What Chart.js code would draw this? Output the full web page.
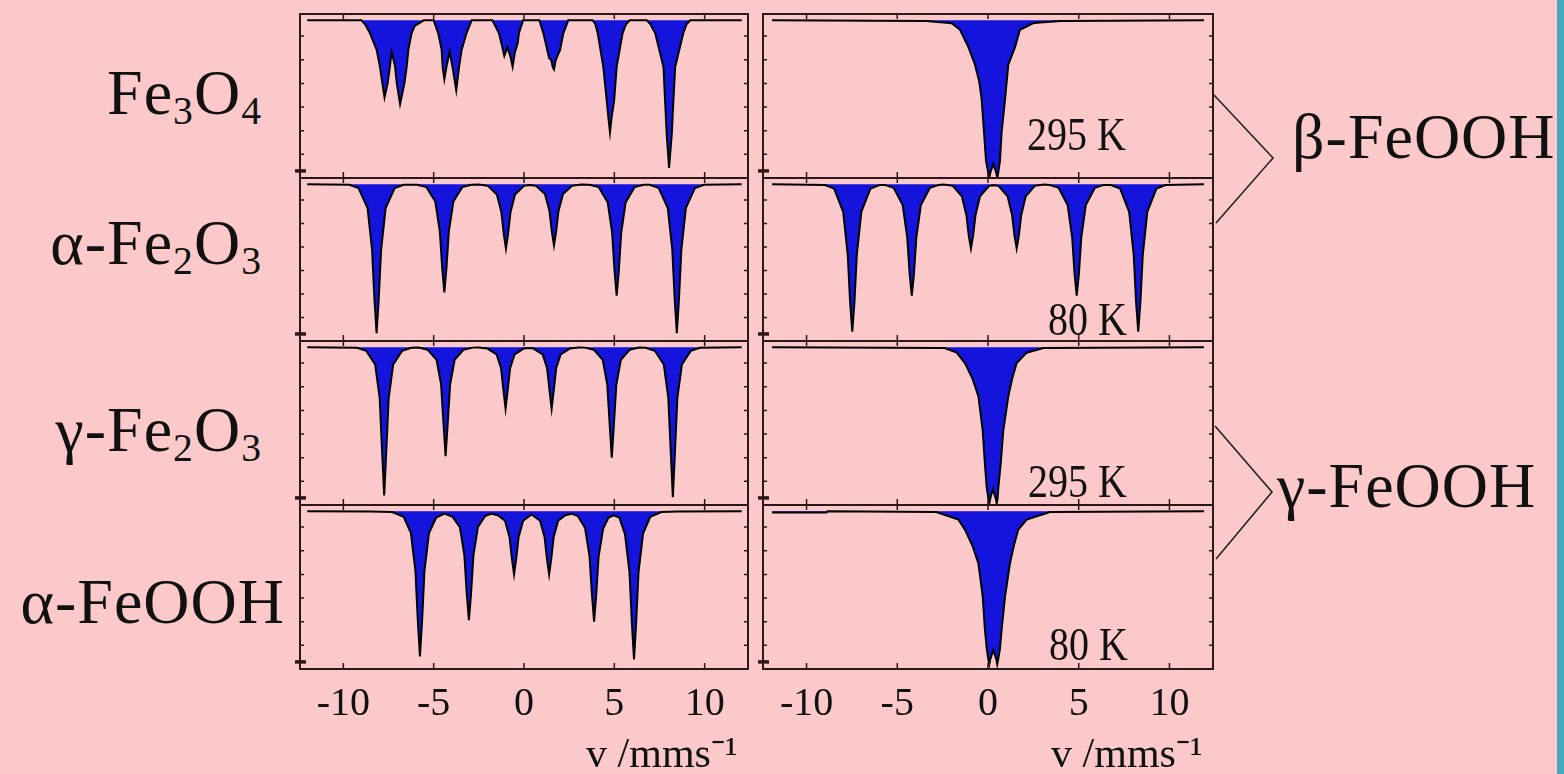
<!DOCTYPE html>
<html>
<head>
<meta charset="utf-8">
<script src="https://cdn.jsdelivr.net/npm/chart.js@4.4.0/dist/chart.umd.min.js"></script>
<style>
  html, body { margin: 0; padding: 0; overflow: hidden; }
  #wrap { position: relative; width: 1564px; height: 774px; background: #fbc9c9; overflow: hidden; font-family: 'Liberation Serif', serif; color: #111; }
  #wrap canvas { position: absolute; }
  .lbl { position: absolute; font-size: 64px; line-height: 1; white-space: nowrap; letter-spacing: 1px; }
  .lbl sub { font-size: 0.62em; vertical-align: -0.24em; line-height: 0; }
  .temp { position: absolute; font-size: 40px; line-height: 1; white-space: nowrap; transform: scaleY(1.15); transform-origin: 0 33.5px; }
  #edge { position: absolute; left: 1557px; top: 0; width: 7px; height: 774px; background: #4aa6bf; }
  svg { position: absolute; left: 0; top: 0; }
</style>
</head>
<body>
<div id="wrap">
  <div class="lbl" style="right:1302px; top:61px">Fe<sub>3</sub>O<sub>4</sub></div>
  <div class="lbl" style="right:1302px; top:211px">&alpha;-Fe<sub>2</sub>O<sub>3</sub></div>
  <div class="lbl" style="right:1302px; top:398px">&gamma;-Fe<sub>2</sub>O<sub>3</sub></div>
  <div class="lbl" style="right:1279px; top:570px">&alpha;-FeOOH</div>
  <div class="lbl" style="left:1292px; top:105px">&beta;-FeOOH</div>
  <div class="lbl" style="left:1277px; top:454px">&gamma;-FeOOH</div>
  <div class="temp" style="left:1027px; top:117px">295 K</div>
  <div class="temp" style="left:1048px; top:302px">80 K</div>
  <div class="temp" style="left:1028px; top:464px">295 K</div>
  <div class="temp" style="left:1049px; top:627px">80 K</div>
  <svg width="1564" height="774">
    <polyline points="1214,95 1273,158 1216,223" fill="none" stroke="#222" stroke-width="1.6"/>
    <polyline points="1215,426 1272,492 1216,559" fill="none" stroke="#222" stroke-width="1.6"/>
  </svg>
  <div id="edge"></div>
</div>
<script>
// spectra: [velocity mm/s, relative transmission]
const fe3o4 = [
  [-12.0, 1], [-9.0, 1], [-8.8, 0.975], [-8.53, 0.919], [-8.16, 0.814], [-7.98, 0.71], [-7.84, 0.60], [-7.72, 0.51],
  [-7.55, 0.60], [-7.42, 0.71], [-7.33, 0.80], [-7.14, 0.71], [-7.04, 0.60], [-6.86, 0.47], [-6.62, 0.60],
  [-6.49, 0.71], [-6.40, 0.814], [-6.22, 0.919], [-6.05, 0.965], [-5.55, 1],
  [-5.00, 1], [-4.75, 0.919], [-4.56, 0.814], [-4.50, 0.70], [-4.41, 0.626], [-4.30, 0.70], [-4.12, 0.80],
  [-3.95, 0.70], [-3.75, 0.556], [-3.60, 0.70], [-3.45, 0.814], [-3.18, 0.919], [-2.90, 1],
  [-1.75, 1], [-1.39, 0.919], [-1.22, 0.84], [-1.09, 0.774], [-0.92, 0.83], [-0.75, 0.77], [-0.63, 0.705],
  [-0.50, 0.80], [-0.35, 0.855], [-0.28, 0.919], [-0.05, 1],
  [0.85, 1], [1.07, 0.919], [1.25, 0.83], [1.39, 0.76], [1.50, 0.75], [1.60, 0.70], [1.66, 0.688],
  [1.76, 0.75], [2.00, 0.814], [2.18, 0.919], [2.45, 1],
  [3.80, 1], [3.95, 0.975], [4.08, 0.919], [4.39, 0.705], [4.58, 0.49], [4.67, 0.385], [4.76, 0.29], [4.85, 0.385],
  [4.99, 0.49], [5.13, 0.705], [5.46, 0.919], [5.65, 0.975], [5.85, 1],
  [6.80, 1], [7.0, 0.975], [7.26, 0.919], [7.72, 0.705], [7.81, 0.49], [7.90, 0.278], [8.03, 0.064], [8.18, 0.278],
  [8.27, 0.49], [8.37, 0.705], [8.82, 0.919], [9.0, 0.975], [9.20, 1], [12.05, 1]
];
const alphaFe2o3 = [
  [-12.0, 1], [-9.66, 0.997], [-9.16, 0.975], [-8.66, 0.848], [-8.41, 0.582], [-8.28, 0.27],
  [-8.16, 0.05], [-8.04, 0.27], [-7.91, 0.582], [-7.66, 0.848], [-7.16, 0.975], [-6.66, 0.997],
  [-5.91, 0.997], [-5.41, 0.982], [-4.91, 0.89], [-4.66, 0.70], [-4.53, 0.47], [-4.41, 0.31], [-4.29, 0.47],
  [-4.16, 0.70], [-3.91, 0.89], [-3.41, 0.982], [-2.91, 0.997],
  [-2.5, 0.998], [-2.0, 0.99], [-1.5, 0.934], [-1.25, 0.82], [-1.12, 0.684], [-1.0, 0.59], [-0.88, 0.684],
  [-0.75, 0.82], [-0.5, 0.934], [0.0, 0.99], [0.33, 0.995],
  [0.66, 0.99], [1.16, 0.938], [1.41, 0.83], [1.54, 0.70], [1.66, 0.61], [1.78, 0.70], [1.91, 0.83],
  [2.16, 0.938], [2.66, 0.99], [3.16, 0.998],
  [3.63, 0.997], [4.13, 0.982], [4.63, 0.886], [4.88, 0.69], [5.01, 0.45], [5.13, 0.29], [5.25, 0.45],
  [5.38, 0.69], [5.63, 0.886], [6.13, 0.982], [6.63, 0.997],
  [6.96, 0.997], [7.46, 0.975], [7.96, 0.848], [8.21, 0.582], [8.34, 0.27], [8.46, 0.05], [8.58, 0.27],
  [8.71, 0.582], [8.96, 0.848], [9.46, 0.975], [9.96, 0.997], [12.05, 1]
];
const gammaFe2o3 = [
  [-12.0, 1], [-9.24, 0.997], [-8.74, 0.978], [-8.24, 0.892], [-7.99, 0.68], [-7.86, 0.35],
  [-7.74, 0.06], [-7.62, 0.35], [-7.49, 0.68], [-7.24, 0.892], [-6.74, 0.978], [-6.24, 0.997],
  [-5.84, 0.998], [-5.34, 0.985], [-4.84, 0.921], [-4.59, 0.765], [-4.46, 0.524], [-4.34, 0.31], [-4.22, 0.524],
  [-4.09, 0.765], [-3.84, 0.921], [-3.34, 0.985], [-2.84, 0.998],
  [-2.52, 0.999], [-2.02, 0.992], [-1.52, 0.955], [-1.27, 0.867], [-1.14, 0.73], [-1.02, 0.61], [-0.9, 0.73],
  [-0.77, 0.867], [-0.52, 0.955], [-0.02, 0.992], [0.26, 0.995],
  [0.53, 0.992], [1.03, 0.955], [1.28, 0.867], [1.41, 0.73], [1.53, 0.61], [1.65, 0.73], [1.78, 0.867],
  [2.03, 0.955], [2.53, 0.992], [3.03, 0.999],
  [3.36, 0.998], [3.86, 0.985], [4.36, 0.92], [4.61, 0.762], [4.74, 0.517], [4.86, 0.30], [4.98, 0.517],
  [5.11, 0.762], [5.36, 0.92], [5.86, 0.985], [6.36, 0.998],
  [6.74, 0.997], [7.24, 0.978], [7.74, 0.891], [7.99, 0.677], [8.12, 0.345], [8.24, 0.05], [8.36, 0.345],
  [8.49, 0.677], [8.74, 0.891], [9.24, 0.978], [9.74, 0.997], [12.05, 1]
];
const alphaFeooh = [
  [-12.0, 1], [-8.5, 0.999], [-7.3, 0.995], [-6.66, 0.965], [-6.26, 0.862], [-6.01, 0.623], [-5.88, 0.31],
  [-5.76, 0.08], [-5.64, 0.31], [-5.51, 0.623], [-5.26, 0.862], [-4.86, 0.96], [-4.40, 0.985],
  [-3.95, 0.965], [-3.55, 0.90], [-3.30, 0.72], [-3.17, 0.48], [-3.05, 0.31], [-2.93, 0.48], [-2.80, 0.72],
  [-2.55, 0.90], [-2.15, 0.97], [-1.80, 0.985],
  [-1.45, 0.975], [-1.05, 0.94], [-0.80, 0.836], [-0.67, 0.70], [-0.55, 0.60], [-0.43, 0.70], [-0.30, 0.836],
  [-0.05, 0.94], [0.42, 0.98],
  [0.89, 0.94], [1.14, 0.836], [1.27, 0.70], [1.39, 0.60], [1.51, 0.70], [1.64, 0.836], [1.89, 0.94],
  [2.29, 0.975], [2.63, 0.985],
  [2.98, 0.97], [3.38, 0.895], [3.63, 0.713], [3.76, 0.475], [3.88, 0.30], [4.00, 0.475], [4.13, 0.713],
  [4.38, 0.89], [4.68, 0.96], [4.98, 0.975],
  [5.28, 0.96], [5.59, 0.855], [5.84, 0.615], [5.97, 0.295], [6.09, 0.06], [6.21, 0.295], [6.34, 0.615],
  [6.59, 0.859], [6.99, 0.965], [7.6, 0.995], [8.5, 0.999], [12.05, 1]
];
const betaFeooh295 = [
  [-11.9, 1], [-3.4, 0.995], [-2.3, 0.985], [-2.0, 0.982], [-1.54, 0.94], [-1.08, 0.83], [-0.72, 0.72],
  [-0.48, 0.61], [-0.35, 0.50], [-0.22, 0.29], [-0.11, 0.11], [0.02, 0.03], [0.07, 0.0], [0.12, 0.03],
  [0.29, 0.09], [0.46, 0.03], [0.51, 0.0], [0.56, 0.03], [0.66, 0.11], [0.75, 0.29], [0.94, 0.50],
  [1.03, 0.61], [1.12, 0.72], [1.49, 0.83], [1.76, 0.94], [2.5, 0.982], [2.7, 0.985], [4.0, 0.995], [11.9, 1]
];
const betaFeooh80 = [
  [-11.9, 1], [-8.98, 0.995], [-8.48, 0.972], [-7.98, 0.824], [-7.73, 0.55], [-7.60, 0.25],
  [-7.48, 0.06], [-7.36, 0.25], [-7.23, 0.55], [-6.98, 0.824], [-6.48, 0.972], [-5.98, 0.995],
  [-5.70, 0.996], [-5.20, 0.978], [-4.70, 0.867], [-4.45, 0.66], [-4.32, 0.43], [-4.20, 0.29], [-4.08, 0.43],
  [-3.95, 0.66], [-3.70, 0.867], [-3.20, 0.978], [-2.70, 0.996],
  [-2.44, 0.998], [-1.94, 0.99], [-1.44, 0.923], [-1.19, 0.803], [-1.06, 0.672], [-0.94, 0.59], [-0.82, 0.672],
  [-0.69, 0.803], [-0.44, 0.923], [0.06, 0.99], [0.32, 0.993],
  [0.58, 0.99], [1.08, 0.923], [1.33, 0.803], [1.46, 0.672], [1.58, 0.59], [1.70, 0.672], [1.83, 0.803],
  [2.08, 0.923], [2.58, 0.99], [3.08, 0.998],
  [3.39, 0.996], [3.89, 0.978], [4.39, 0.867], [4.64, 0.66], [4.77, 0.43], [4.89, 0.29], [5.01, 0.43],
  [5.14, 0.66], [5.39, 0.867], [5.89, 0.978], [6.39, 0.996],
  [6.78, 0.995], [7.28, 0.972], [7.78, 0.824], [8.03, 0.55], [8.16, 0.25], [8.28, 0.06], [8.40, 0.25],
  [8.53, 0.55], [8.78, 0.824], [9.28, 0.972], [9.78, 0.995], [11.9, 1]
];
const gammaFeooh295 = [
  [-11.9, 1], [-2.4, 0.995], [-1.72, 0.966], [-1.27, 0.90], [-0.85, 0.80], [-0.53, 0.69], [-0.29, 0.47],
  [-0.17, 0.26], [-0.07, 0.11], [0.02, 0.04], [0.07, 0.01], [0.12, 0.04], [0.27, 0.10], [0.43, 0.04],
  [0.48, 0.01], [0.53, 0.04], [0.57, 0.11], [0.70, 0.26], [0.84, 0.47], [1.12, 0.69], [1.33, 0.80],
  [1.58, 0.90], [2.13, 0.966], [3.05, 0.995], [11.9, 1]
];
const gammaFeooh80 = [
  [-11.9, 0.993], [-8.9, 0.993], [-8.85, 1], [-2.85, 0.995], [-1.63, 0.947], [-1.27, 0.884], [-0.85, 0.78],
  [-0.53, 0.67], [-0.29, 0.46], [-0.17, 0.25], [-0.07, 0.13], [0.02, 0.06], [0.07, 0.03], [0.12, 0.06],
  [0.29, 0.12], [0.46, 0.06], [0.51, 0.03], [0.56, 0.06], [0.66, 0.13], [0.75, 0.25], [0.94, 0.46],
  [1.21, 0.67], [1.42, 0.78], [1.67, 0.884], [2.13, 0.947], [3.42, 0.995], [11.9, 1]
];

const velocityTicks = [-10, -5, 0, 5, 10];
const frameYTicks = [0.15, 0.3, 0.45, 0.6, 0.75, 0.9];
const axisTitle = 'v /mms\u207B\u00B9 ';

// panel geometry (chart area, px)
const colLeft = [300, 763];
const colWidth = [448, 450];
const rowTop = [14, 178, 341, 505];
const rowHeight = [164, 163, 164, 164];
const padL = 6, padR = 2, padT = 2, padB = 2;
const axisH = 112;

const frameColor = '#2a1818';
const fillColor = '#1414dc';

const panels = [
  {data: fe3o4, col: 0, row: 0},
  {data: alphaFe2o3, col: 0, row: 1},
  {data: gammaFe2o3, col: 0, row: 2},
  {data: alphaFeooh, col: 0, row: 3},
  {data: betaFeooh295, col: 1, row: 0},
  {data: betaFeooh80, col: 1, row: 1},
  {data: gammaFeooh295, col: 1, row: 2},
  {data: gammaFeooh80, col: 1, row: 3},
];

Chart.defaults.font.family = 'Liberation Serif';

const framePlugin = {
  id: 'frame',
  afterDraw(chart) {
    const {ctx, chartArea: a, scales: {x, y}} = chart;
    ctx.save();
    ctx.strokeStyle = frameColor;
    ctx.lineWidth = 2;
    ctx.strokeRect(a.left, a.top, a.right - a.left, a.bottom - a.top);
    ctx.lineWidth = 1.5;
    ctx.beginPath();
    velocityTicks.forEach(v => {
      const px = x.getPixelForValue(v);
      ctx.moveTo(px, a.bottom);
      ctx.lineTo(px, a.bottom - 6);
      ctx.moveTo(px, a.top);
      ctx.lineTo(px, a.top + 5);
    });
    frameYTicks.forEach(t => {
      const py = y.getPixelForValue(t);
      ctx.moveTo(a.left, py);
      ctx.lineTo(a.left + 4, py);
      ctx.moveTo(a.right, py);
      ctx.lineTo(a.right - 4, py);
    });
    ctx.stroke();
    // small zero marker at the left edge
    const pz = y.getPixelForValue(0.045);
    ctx.lineWidth = 3.5;
    ctx.beginPath();
    ctx.moveTo(a.left - 5, pz);
    ctx.lineTo(a.left + 6, pz);
    ctx.stroke();
    ctx.restore();
  }
};

const wrap = document.getElementById('wrap');

panels.forEach(p => {
  const showAxis = p.row === 3;
  const c = document.createElement('canvas');
  c.width = colWidth[p.col] + padL + padR;
  c.height = rowHeight[p.row] + padT + (showAxis ? axisH : padB);
  c.style.left = (colLeft[p.col] - padL) + 'px';
  c.style.top = (rowTop[p.row] - padT) + 'px';
  wrap.insertBefore(c, wrap.firstChild);

  let xScale = {
    type: 'linear',
    min: -12.4,
    max: 12.4,
    display: showAxis,
    afterBuildTicks: s => { s.ticks = velocityTicks.map(v => ({value: v})); },
    grid: {display: false, drawTicks: false},
    border: {display: false},
    ticks: {
      color: '#111',
      padding: 11,
      maxRotation: 0,
      autoSkip: false,
      font: {size: 40}
    },
    title: {
      display: true,
      text: axisTitle,
      align: 'end',
      color: '#111',
      padding: 0,
      font: {size: 42}
    }
  };
  if (showAxis) {
    xScale.afterFit = s => { s.height = axisH; };
  }

  new Chart(c, {
    type: 'line',
    data: {
      datasets: [{
        data: p.data.map(d => ({x: d[0], y: d[1]})),
        borderColor: '#000',
        borderWidth: 2,
        backgroundColor: fillColor,
        fill: {value: 1},
        pointRadius: 0,
        tension: 0,
      }]
    },
    options: {
      responsive: false,
      animation: false,
      layout: {padding: {left: padL, right: padR, top: padT, bottom: showAxis ? 0 : padB}},
      scales: {
        x: xScale,
        y: {min: 0, max: 1.04, display: false}
      },
      plugins: {
        legend: {display: false},
        tooltip: {enabled: false},
      },
    },
    plugins: [framePlugin],
  });
});
</script>
</body>
</html>
